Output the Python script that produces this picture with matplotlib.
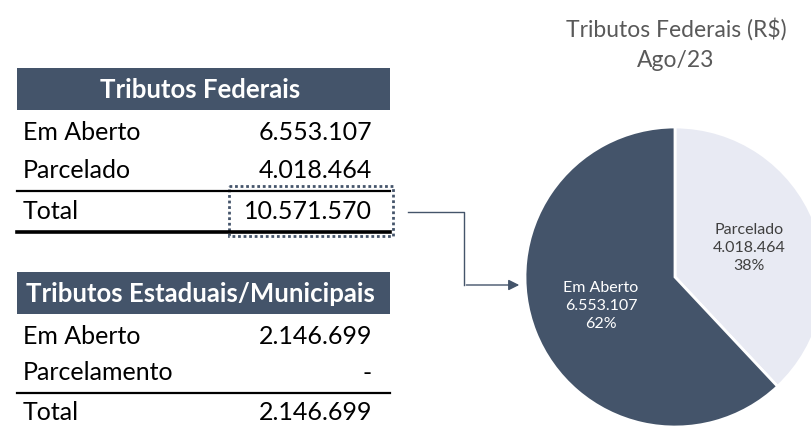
import matplotlib.pyplot as plt
from matplotlib.patches import Rectangle

plt.rcParams['font.family'] = ['Lato', 'DejaVu Sans']

# Table data
fed_title = 'Tributos Federais'
fed_labels = ['Em Aberto', 'Parcelado']
fed_values = [6553107, 4018464]
fed_total = 10571570

est_title = 'Tributos Estaduais/Municipais'
est_labels = ['Em Aberto', 'Parcelamento']
est_values = [2146699, 0]
est_total = 2146699

# Pie data (drawn clockwise from the top)
pie_labels = ['Parcelado', 'Em Aberto']
pie_values = [4018464, 6553107]
pie_title = 'Tributos Federais (R$)\nAgo/23'

dark = '#44546A'
light = '#E8EAF3'


def fmt(v):
    if v == 0:
        return '-'
    return f'{v:,}'.replace(',', '.')


fig = plt.figure(figsize=(8.11, 4.28), dpi=100)
fig.patch.set_facecolor('white')

# full-figure axes in pixel coordinates for the tables
ax = fig.add_axes([0, 0, 1, 1])
ax.set_xlim(0, 811)
ax.set_ylim(428, 0)
ax.axis('off')


def draw_table(top, title, labels, values, total, bottom_lw, step):
    ax.add_patch(Rectangle((17, top), 373, 42, color=dark, lw=0))
    ax.text(200, top + 22, title, color='white', fontsize=18.5, fontweight='bold',
            ha='center', va='center')
    y = top + 64
    for lab, val in zip(labels, values):
        ax.text(23, y, lab, fontsize=18, color='black', va='center')
        ax.text(372, y, fmt(val), fontsize=18, color='black', va='center', ha='right')
        y += step
    ax.plot([17, 390], [y - 17, y - 17], color='black', lw=1.6)
    ax.text(23, y + 3, 'Total', fontsize=18, color='black', va='center')
    ax.text(372, y + 3, fmt(total), fontsize=18, color='black', va='center', ha='right')
    if bottom_lw:
        ax.plot([17, 390], [y + 24, y + 24], color='black', lw=bottom_lw)


draw_table(68, fed_title, fed_labels, fed_values, fed_total, 2.6, 38)
draw_table(272, est_title, est_labels, est_values, est_total, 0, 37)

# dotted highlight around federal total
ax.add_patch(Rectangle((229, 186), 164, 50, fill=False, edgecolor=dark,
                       lw=2, linestyle=(0, (1, 1))))

# connector arrow
ax.plot([408, 464, 464], [212, 212, 285], color=dark, lw=1)
ax.annotate('', xy=(522, 285), xytext=(463.5, 285),
            arrowprops=dict(arrowstyle='-|>', color=dark, lw=1, mutation_scale=16))

# chart title
ax.text(676, 44, pie_title, ha='center', va='center', fontsize=16.5,
        color='#595959', linespacing=1.55)

# pie
pax = fig.add_axes([525 / 811, 1 / 428, 300 / 811, 300 / 428])
total = sum(pie_values)
texts_lbl = [f'{l}\n{fmt(v)}\n{round(100 * v / total)}%' for l, v in zip(pie_labels, pie_values)]
wedges, texts = pax.pie(pie_values, labels=texts_lbl, colors=[light, dark],
                        startangle=90, counterclock=False, labeldistance=0.53,
                        wedgeprops=dict(edgecolor='white', linewidth=2))
for t, c in zip(texts, ['#404040', 'white']):
    t.set_ha('center')
    t.set_va('center')
    t.set_color(c)
    t.set_fontsize(11.5)
    t.set_linespacing(1.35)
pax.set_xlim(-1, 1)
pax.set_ylim(-1, 1)
pax.set_aspect('equal')

fig.savefig('out.png', dpi=100)
